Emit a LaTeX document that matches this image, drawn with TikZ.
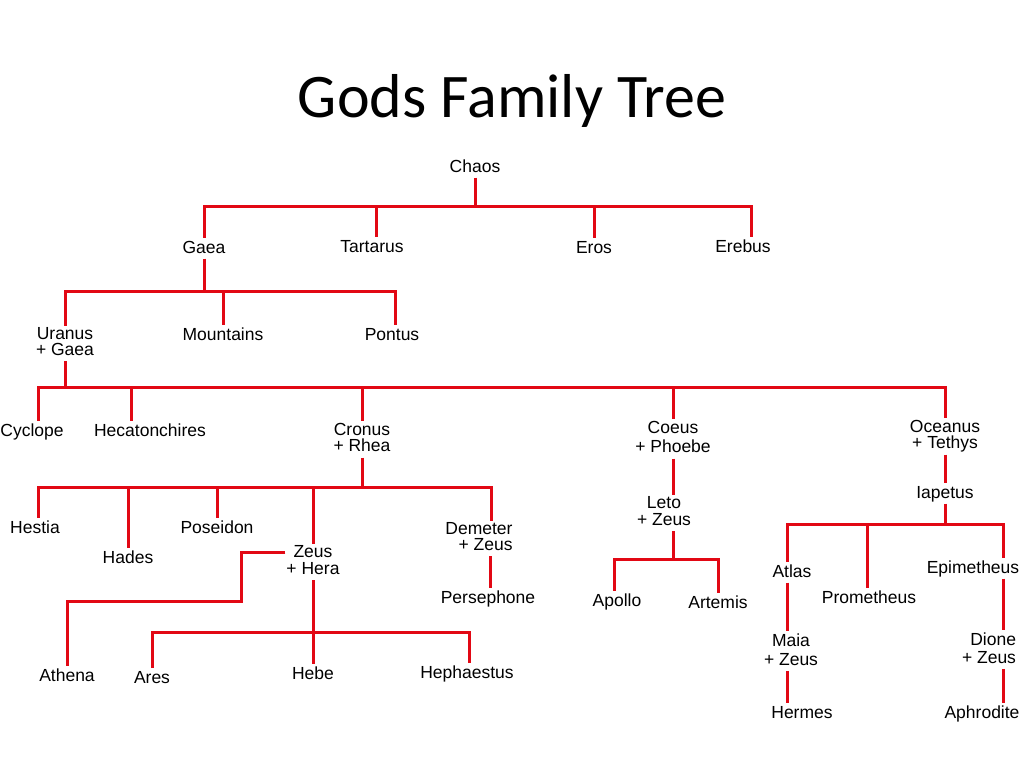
\documentclass[tikz,border=0pt]{standalone}
\usepackage{fontspec}
\setmainfont{Liberation Sans}
\newfontfamily\titlefont{Carlito}
\usepackage{tikz}
\usetikzlibrary{calc}
\definecolor{kinred}{RGB}{226,8,20}
\tikzset{
	god/.style={
		inner xsep=1pt, inner ysep=2pt,
		text height=12.5pt, text depth=3.5pt,
		font=\fontsize{17.5}{16}\selectfont
	},
	couple/.style={
		inner xsep=1pt, inner ysep=2pt,
		text depth=3.5pt, align=center,
		font=\fontsize{17.5}{16}\selectfont
	},
	kin_line/.style={draw=kinred, line width=3pt}
}

\begin{document}
\begin{tikzpicture}[x=1pt,y=-1pt]
	\useasboundingbox (0,0) rectangle (1024,768);
	\node[anchor=base,font=\titlefont\fontsize{62}{70}\selectfont] (title) at (512,117) {Gods Family Tree};
	% gods
	\node[god] (chaos) at (475,167.5) {Chaos};
	\node[god] (gaea) at (204,248.5) {Gaea};
	\node[god] (tartarus) at (372,247.5) {Tartarus};
	\node[god] (eros) at (594,248.5) {Eros};
	\node[god] (erebus) at (743,247.5) {Erebus};
	\node[couple] (uranus) at (65,343.5) {Uranus\\+ Gaea};
	\node[god] (mountains) at (223,335.5) {Mountains};
	\node[god] (pontus) at (392,335.5) {Pontus};
	\node[god] (cyclope) at (32,431.5) {Cyclope};
	\node[god] (hecatonchires) at (150,431.5) {Hecatonchires};
	\node[couple] (cronus) at (362,439.5) {Cronus\\+ Rhea};
	\node[couple] (coeus) at (673,439) {Coeus\\[3pt]+ Phoebe};
	\node[couple] (oceanus) at (945,436.5) {Oceanus\\+ Tethys};
	\node[god] (hestia) at (35,528.5) {Hestia};
	\node[god] (hades) at (128,558.5) {Hades};
	\node[god] (poseidon) at (217,528.5) {Poseidon};
	\node[couple] (zeus) at (313,562) {Zeus\\[1pt]+ Hera};
	\node[couple,align=right] (demeter) at (479,538.5) {Demeter\\+ Zeus};
	\node[god] (persephone) at (488,598.5) {Persephone};
	\node[god] (athena) at (67,676.5) {Athena};
	\node[god] (ares) at (152,678.5) {Ares};
	\node[god] (hebe) at (313,674.5) {Hebe};
	\node[god] (hephaestus) at (467,673.5) {Hephaestus};
	\node[couple] (leto) at (664,513) {Leto\\[1pt]+ Zeus};
	\node[god] (apollo) at (617,601.5) {Apollo};
	\node[god] (artemis) at (718,603.5) {Artemis};
	\node[god] (iapetus) at (945,493.5) {Iapetus};
	\node[god] (atlas) at (792,572.5) {Atlas};
	\node[god] (prometheus) at (869,598.5) {Prometheus};
	\node[god] (epimetheus) at (973,568.5) {Epimetheus};
	\node[couple] (maia) at (791,651) {Maia\\[3pt]+ Zeus};
	\node[god] (hermes) at (802,713.5) {Hermes};
	\node[couple,align=right] (dione) at (989,649.5) {Dione\\[2pt]+ Zeus};
	\node[god] (aphrodite) at (982,713.5) {Aphrodite};
	% junctions
	\coordinate (j1) at (475,206);
	\coordinate (j2) at (204,291);
	\coordinate (j3) at (65,387);
	\coordinate (j4) at (362,487);
	\coordinate (j5) at (313,632);
	\coordinate (j6) at (241,601);
	\coordinate (j7) at (673,559);
	\coordinate (j8) at (945,524);
	% chaos
	\draw[kin_line] (chaos.south) -- (j1);
	\draw[kin_line] (j1) -| (gaea.north);
	\draw[kin_line] (j1) -| ([xshift=4pt]tartarus.north);
	\draw[kin_line] (j1) -| (eros.north);
	\draw[kin_line] (j1) -| ([xshift=8pt]erebus.north);
	% gaea
	\draw[kin_line] (gaea.south) -- (j2);
	\draw[kin_line] (j2) -| (uranus.north);
	\draw[kin_line] (j2) -| (mountains.north);
	\draw[kin_line] (j2) -| ([xshift=3pt]pontus.north);
	% uranus
	\draw[kin_line] (uranus.south) -- (j3);
	\draw[kin_line] (j3) -| ([xshift=6pt]cyclope.north);
	\draw[kin_line] (j3) -| ([xshift=-19pt]hecatonchires.north);
	\draw[kin_line] (j3) -| (cronus.north);
	\draw[kin_line] (j3) -| (coeus.north);
	\draw[kin_line] (j3) -| (oceanus.north);
	% cronus
	\draw[kin_line] (cronus.south) -- (j4);
	\draw[kin_line] (j4) -| ([xshift=3pt]hestia.north);
	\draw[kin_line] (j4) -| (hades.north);
	\draw[kin_line] (j4) -| (poseidon.north);
	\draw[kin_line] (j4) -| (zeus.north);
	\draw[kin_line] (j4) -| ([xshift=12pt]demeter.north);
	\draw[kin_line] ([xshift=11pt]demeter.south) -- ([xshift=2pt]persephone.north);
	% zeus
	\draw[kin_line] (zeus.south) -- (hebe.north);
	\draw[kin_line] (j5) -| (ares.north);
	\draw[kin_line] (j5) -| ([xshift=2pt]hephaestus.north);
	\draw[kin_line] ([yshift=-9pt]zeus.north west) -| (j6) -| (athena.north);
	% coeus
	\draw[kin_line] (coeus.south) -- ([xshift=9pt]leto.north);
	\draw[kin_line] ([xshift=9pt]leto.south) -- (j7);
	\draw[kin_line] (j7) -| ([xshift=-3pt]apollo.north);
	\draw[kin_line] (j7) -| (artemis.north);
	% oceanus
	\draw[kin_line] (oceanus.south) -- (iapetus.north);
	\draw[kin_line] (iapetus.south) -- (j8);
	\draw[kin_line] (j8) -| ([xshift=-5pt]atlas.north);
	\draw[kin_line] (j8) -| ([xshift=-2pt]prometheus.north);
	\draw[kin_line] (j8) -| ([xshift=30pt]epimetheus.north);
	\draw[kin_line] ([xshift=-5pt]atlas.south) -- ([xshift=-4pt]maia.north);
	\draw[kin_line] ([xshift=-4pt]maia.south) -- ([xshift=-15pt]hermes.north);
	\draw[kin_line] ([xshift=30pt]epimetheus.south) -- ([xshift=14pt]dione.north);
	\draw[kin_line] ([xshift=14pt]dione.south) -- ([xshift=21pt]aphrodite.north);
\end{tikzpicture}
\end{document}
